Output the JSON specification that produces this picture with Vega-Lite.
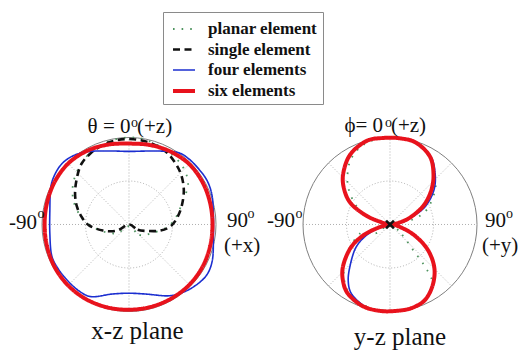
{
  "$schema": "https://vega.github.io/schema/vega-lite/v6.json",
  "width": 520,
  "height": 350,
  "autosize": {"type": "none"},
  "padding": 0,
  "background": "#ffffff",
  "config": {"view": {"stroke": null}},
  "datasets": {
    "circ": [{"x": 0, "y": 0}, {"x": 3, "y": 0}],
    "spk": [
      {"x": -1, "y": 0, "x2": 1, "y2": 0},
      {"x": 0, "y": -1, "x2": 0, "y2": 1},
      {"x": -0.7071, "y": -0.7071, "x2": 0.7071, "y2": 0.7071},
      {"x": -0.7071, "y": 0.7071, "x2": 0.7071, "y2": -0.7071},
      {"x": 2, "y": 0, "x2": 4, "y2": 0},
      {"x": 3, "y": -1, "x2": 3, "y2": 1},
      {"x": 2.2929, "y": -0.7071, "x2": 3.7071, "y2": 0.7071},
      {"x": 2.2929, "y": 0.7071, "x2": 3.7071, "y2": -0.7071}
    ],
    "xm": [
      {"x": 2.955, "y": 0.045, "x2": 3.045, "y2": -0.045},
      {"x": 2.955, "y": -0.045, "x2": 3.045, "y2": 0.045}
    ],
    "crv": [
      {"s": "planar element", "p": "Lpl", "x": 0, "y": -0.02},
      {"s": "planar element", "p": "Lpl", "x": 0.12, "y": -0.12},
      {"s": "planar element", "p": "Lpl", "x": 0.26, "y": -0.1},
      {"s": "planar element", "p": "Lpl", "x": 0.44, "y": -0.03},
      {"s": "planar element", "p": "Lpl", "x": 0.55, "y": 0.1},
      {"s": "planar element", "p": "Lpl", "x": 0.62, "y": 0.28},
      {"s": "planar element", "p": "Lpl", "x": 0.68, "y": 0.46},
      {"s": "planar element", "p": "Lpl", "x": 0.62, "y": 0.66},
      {"s": "planar element", "p": "Lpl", "x": 0.45, "y": 0.84},
      {"s": "planar element", "p": "Lpl", "x": 0.2, "y": 0.97},
      {"s": "planar element", "p": "Lpl", "x": 0, "y": 1.0},
      {"s": "planar element", "p": "Lpl", "x": -0.22, "y": 0.96},
      {"s": "planar element", "p": "Lpl", "x": -0.42, "y": 0.85},
      {"s": "planar element", "p": "Lpl", "x": -0.56, "y": 0.68},
      {"s": "planar element", "p": "Lpl", "x": -0.64, "y": 0.48},
      {"s": "planar element", "p": "Lpl", "x": -0.64, "y": 0.28},
      {"s": "planar element", "p": "Lpl", "x": -0.56, "y": 0.1},
      {"s": "planar element", "p": "Lpl", "x": -0.46, "y": 0.0},
      {"s": "planar element", "p": "Lpl", "x": -0.3, "y": -0.08},
      {"s": "planar element", "p": "Lpl", "x": -0.14, "y": -0.1},

      {"s": "planar element", "p": "Rplu", "x": 3.0, "y": 0},
      {"s": "planar element", "p": "Rplu", "x": 3.15, "y": 0.03},
      {"s": "planar element", "p": "Rplu", "x": 3.29, "y": 0.07},
      {"s": "planar element", "p": "Rplu", "x": 3.43, "y": 0.18},
      {"s": "planar element", "p": "Rplu", "x": 3.52, "y": 0.4},
      {"s": "planar element", "p": "Rplu", "x": 3.51, "y": 0.58},
      {"s": "planar element", "p": "Rplu", "x": 3.45, "y": 0.78},
      {"s": "planar element", "p": "Rplu", "x": 3.3, "y": 0.93},
      {"s": "planar element", "p": "Rplu", "x": 3.1, "y": 0.99},
      {"s": "planar element", "p": "Rplu", "x": 2.9, "y": 0.99},
      {"s": "planar element", "p": "Rplu", "x": 2.7, "y": 0.92},
      {"s": "planar element", "p": "Rplu", "x": 2.55, "y": 0.75},
      {"s": "planar element", "p": "Rplu", "x": 2.51, "y": 0.53},
      {"s": "planar element", "p": "Rplu", "x": 2.54, "y": 0.36},
      {"s": "planar element", "p": "Rplu", "x": 2.64, "y": 0.18},
      {"s": "planar element", "p": "Rplu", "x": 2.82, "y": 0.06},

      {"s": "planar element", "p": "Rpll", "x": 3.0, "y": 0},
      {"s": "planar element", "p": "Rpll", "x": 3.14, "y": -0.12},
      {"s": "planar element", "p": "Rpll", "x": 3.27, "y": -0.3},
      {"s": "planar element", "p": "Rpll", "x": 3.4, "y": -0.48},
      {"s": "planar element", "p": "Rpll", "x": 3.49, "y": -0.68},
      {"s": "planar element", "p": "Rpll", "x": 3.4, "y": -0.87},
      {"s": "planar element", "p": "Rpll", "x": 3.2, "y": -0.97},
      {"s": "planar element", "p": "Rpll", "x": 3.0, "y": -0.99},
      {"s": "planar element", "p": "Rpll", "x": 2.75, "y": -0.95},
      {"s": "planar element", "p": "Rpll", "x": 2.54, "y": -0.8},
      {"s": "planar element", "p": "Rpll", "x": 2.47, "y": -0.6},
      {"s": "planar element", "p": "Rpll", "x": 2.5, "y": -0.35},
      {"s": "planar element", "p": "Rpll", "x": 2.66, "y": -0.1},
      {"s": "planar element", "p": "Rpll", "x": 2.84, "y": -0.1},

      {"s": "single element", "p": "Lsi", "x": 0, "y": 0},
      {"s": "single element", "p": "Lsi", "x": 0.1, "y": -0.06},
      {"s": "single element", "p": "Lsi", "x": 0.22, "y": -0.075},
      {"s": "single element", "p": "Lsi", "x": 0.36, "y": -0.07},
      {"s": "single element", "p": "Lsi", "x": 0.48, "y": -0.02},
      {"s": "single element", "p": "Lsi", "x": 0.56, "y": 0.09},
      {"s": "single element", "p": "Lsi", "x": 0.61, "y": 0.23},
      {"s": "single element", "p": "Lsi", "x": 0.63, "y": 0.4},
      {"s": "single element", "p": "Lsi", "x": 0.6, "y": 0.57},
      {"s": "single element", "p": "Lsi", "x": 0.53, "y": 0.71},
      {"s": "single element", "p": "Lsi", "x": 0.42, "y": 0.84},
      {"s": "single element", "p": "Lsi", "x": 0.24, "y": 0.94},
      {"s": "single element", "p": "Lsi", "x": 0.05, "y": 0.98},
      {"s": "single element", "p": "Lsi", "x": -0.14, "y": 0.97},
      {"s": "single element", "p": "Lsi", "x": -0.31, "y": 0.91},
      {"s": "single element", "p": "Lsi", "x": -0.45, "y": 0.81},
      {"s": "single element", "p": "Lsi", "x": -0.55, "y": 0.69},
      {"s": "single element", "p": "Lsi", "x": -0.6, "y": 0.53},
      {"s": "single element", "p": "Lsi", "x": -0.62, "y": 0.36},
      {"s": "single element", "p": "Lsi", "x": -0.6, "y": 0.21},
      {"s": "single element", "p": "Lsi", "x": -0.54, "y": 0.08},
      {"s": "single element", "p": "Lsi", "x": -0.46, "y": -0.01},
      {"s": "single element", "p": "Lsi", "x": -0.3, "y": -0.07},
      {"s": "single element", "p": "Lsi", "x": -0.14, "y": -0.07},

      {"s": "four elements", "p": "Lfo", "x": 0, "y": 0.84},
      {"s": "four elements", "p": "Lfo", "x": 0.3, "y": 0.845},
      {"s": "four elements", "p": "Lfo", "x": 0.55, "y": 0.83},
      {"s": "four elements", "p": "Lfo", "x": 0.68, "y": 0.76},
      {"s": "four elements", "p": "Lfo", "x": 0.8, "y": 0.64},
      {"s": "four elements", "p": "Lfo", "x": 0.9, "y": 0.5},
      {"s": "four elements", "p": "Lfo", "x": 0.955, "y": 0.33},
      {"s": "four elements", "p": "Lfo", "x": 0.97, "y": 0.1},
      {"s": "four elements", "p": "Lfo", "x": 0.97, "y": -0.15},
      {"s": "four elements", "p": "Lfo", "x": 0.96, "y": -0.4},
      {"s": "four elements", "p": "Lfo", "x": 0.9, "y": -0.57},
      {"s": "four elements", "p": "Lfo", "x": 0.78, "y": -0.69},
      {"s": "four elements", "p": "Lfo", "x": 0.62, "y": -0.78},
      {"s": "four elements", "p": "Lfo", "x": 0.45, "y": -0.82},
      {"s": "four elements", "p": "Lfo", "x": 0.2, "y": -0.8},
      {"s": "four elements", "p": "Lfo", "x": 0, "y": -0.79},
      {"s": "four elements", "p": "Lfo", "x": -0.2, "y": -0.8},
      {"s": "four elements", "p": "Lfo", "x": -0.43, "y": -0.83},
      {"s": "four elements", "p": "Lfo", "x": -0.58, "y": -0.76},
      {"s": "four elements", "p": "Lfo", "x": -0.71, "y": -0.64},
      {"s": "four elements", "p": "Lfo", "x": -0.82, "y": -0.5},
      {"s": "four elements", "p": "Lfo", "x": -0.89, "y": -0.35},
      {"s": "four elements", "p": "Lfo", "x": -0.91, "y": -0.1},
      {"s": "four elements", "p": "Lfo", "x": -0.91, "y": 0.15},
      {"s": "four elements", "p": "Lfo", "x": -0.9, "y": 0.42},
      {"s": "four elements", "p": "Lfo", "x": -0.85, "y": 0.58},
      {"s": "four elements", "p": "Lfo", "x": -0.76, "y": 0.71},
      {"s": "four elements", "p": "Lfo", "x": -0.62, "y": 0.8},
      {"s": "four elements", "p": "Lfo", "x": -0.45, "y": 0.84},
      {"s": "four elements", "p": "Lfo", "x": -0.2, "y": 0.845},

      {"s": "four elements", "p": "Rfou", "x": 3.0, "y": 0},
      {"s": "four elements", "p": "Rfou", "x": 3.1, "y": 0.02},
      {"s": "four elements", "p": "Rfou", "x": 3.24, "y": 0.08},
      {"s": "four elements", "p": "Rfou", "x": 3.4, "y": 0.2},
      {"s": "four elements", "p": "Rfou", "x": 3.5, "y": 0.38},
      {"s": "four elements", "p": "Rfou", "x": 3.52, "y": 0.57},
      {"s": "four elements", "p": "Rfou", "x": 3.47, "y": 0.78},
      {"s": "four elements", "p": "Rfou", "x": 3.3, "y": 0.94},
      {"s": "four elements", "p": "Rfou", "x": 3.12, "y": 0.99},
      {"s": "four elements", "p": "Rfou", "x": 2.93, "y": 0.995},
      {"s": "four elements", "p": "Rfou", "x": 2.73, "y": 0.96},
      {"s": "four elements", "p": "Rfou", "x": 2.54, "y": 0.8},
      {"s": "four elements", "p": "Rfou", "x": 2.46, "y": 0.57},
      {"s": "four elements", "p": "Rfou", "x": 2.48, "y": 0.38},
      {"s": "four elements", "p": "Rfou", "x": 2.56, "y": 0.23},
      {"s": "four elements", "p": "Rfou", "x": 2.73, "y": 0.1},
      {"s": "four elements", "p": "Rfou", "x": 2.89, "y": 0.03},

      {"s": "four elements", "p": "Rfol", "x": 3.0, "y": 0},
      {"s": "four elements", "p": "Rfol", "x": 2.83, "y": -0.06},
      {"s": "four elements", "p": "Rfol", "x": 2.7, "y": -0.15},
      {"s": "four elements", "p": "Rfol", "x": 2.6, "y": -0.28},
      {"s": "four elements", "p": "Rfol", "x": 2.54, "y": -0.48},
      {"s": "four elements", "p": "Rfol", "x": 2.52, "y": -0.65},
      {"s": "four elements", "p": "Rfol", "x": 2.56, "y": -0.8},
      {"s": "four elements", "p": "Rfol", "x": 2.71, "y": -0.94},
      {"s": "four elements", "p": "Rfol", "x": 2.9, "y": -0.995},
      {"s": "four elements", "p": "Rfol", "x": 3.1, "y": -0.99},
      {"s": "four elements", "p": "Rfol", "x": 3.25, "y": -0.96},
      {"s": "four elements", "p": "Rfol", "x": 3.4, "y": -0.87},
      {"s": "four elements", "p": "Rfol", "x": 3.49, "y": -0.7},
      {"s": "four elements", "p": "Rfol", "x": 3.51, "y": -0.5},
      {"s": "four elements", "p": "Rfol", "x": 3.44, "y": -0.3},
      {"s": "four elements", "p": "Rfol", "x": 3.3, "y": -0.14},
      {"s": "four elements", "p": "Rfol", "x": 3.14, "y": -0.04},

      {"s": "six elements", "p": "Lsx", "x": 0, "y": 0.93},
      {"s": "six elements", "p": "Lsx", "x": 0.2446, "y": 0.9128},
      {"s": "six elements", "p": "Lsx", "x": 0.4825, "y": 0.8357},
      {"s": "six elements", "p": "Lsx", "x": 0.693, "y": 0.693},
      {"s": "six elements", "p": "Lsx", "x": 0.8444, "y": 0.4875},
      {"s": "six elements", "p": "Lsx", "x": 0.9321, "y": 0.2498},
      {"s": "six elements", "p": "Lsx", "x": 0.96, "y": 0},
      {"s": "six elements", "p": "Lsx", "x": 0.9321, "y": -0.2498},
      {"s": "six elements", "p": "Lsx", "x": 0.8444, "y": -0.4875},
      {"s": "six elements", "p": "Lsx", "x": 0.693, "y": -0.693},
      {"s": "six elements", "p": "Lsx", "x": 0.49, "y": -0.8487},
      {"s": "six elements", "p": "Lsx", "x": 0.2536, "y": -0.9466},
      {"s": "six elements", "p": "Lsx", "x": 0, "y": -0.98},
      {"s": "six elements", "p": "Lsx", "x": -0.2549, "y": -0.9514},
      {"s": "six elements", "p": "Lsx", "x": -0.495, "y": -0.8574},
      {"s": "six elements", "p": "Lsx", "x": -0.7, "y": -0.7},
      {"s": "six elements", "p": "Lsx", "x": -0.853, "y": -0.4925},
      {"s": "six elements", "p": "Lsx", "x": -0.9418, "y": -0.2523},
      {"s": "six elements", "p": "Lsx", "x": -0.97, "y": 0},
      {"s": "six elements", "p": "Lsx", "x": -0.9418, "y": 0.2523},
      {"s": "six elements", "p": "Lsx", "x": -0.853, "y": 0.4925},
      {"s": "six elements", "p": "Lsx", "x": -0.7, "y": 0.7},
      {"s": "six elements", "p": "Lsx", "x": -0.4875, "y": 0.8444},
      {"s": "six elements", "p": "Lsx", "x": -0.2459, "y": 0.9176},

      {"s": "six elements", "p": "Rsxu", "x": 3.0, "y": 0},
      {"s": "six elements", "p": "Rsxu", "x": 3.1, "y": 0.02},
      {"s": "six elements", "p": "Rsxu", "x": 3.23, "y": 0.08},
      {"s": "six elements", "p": "Rsxu", "x": 3.38, "y": 0.21},
      {"s": "six elements", "p": "Rsxu", "x": 3.47, "y": 0.38},
      {"s": "six elements", "p": "Rsxu", "x": 3.5, "y": 0.57},
      {"s": "six elements", "p": "Rsxu", "x": 3.46, "y": 0.78},
      {"s": "six elements", "p": "Rsxu", "x": 3.3, "y": 0.94},
      {"s": "six elements", "p": "Rsxu", "x": 3.12, "y": 0.99},
      {"s": "six elements", "p": "Rsxu", "x": 2.93, "y": 0.995},
      {"s": "six elements", "p": "Rsxu", "x": 2.73, "y": 0.96},
      {"s": "six elements", "p": "Rsxu", "x": 2.54, "y": 0.8},
      {"s": "six elements", "p": "Rsxu", "x": 2.46, "y": 0.57},
      {"s": "six elements", "p": "Rsxu", "x": 2.48, "y": 0.38},
      {"s": "six elements", "p": "Rsxu", "x": 2.56, "y": 0.23},
      {"s": "six elements", "p": "Rsxu", "x": 2.73, "y": 0.1},
      {"s": "six elements", "p": "Rsxu", "x": 2.89, "y": 0.03},

      {"s": "six elements", "p": "Rsxl", "x": 3.0, "y": 0},
      {"s": "six elements", "p": "Rsxl", "x": 2.81, "y": -0.06},
      {"s": "six elements", "p": "Rsxl", "x": 2.66, "y": -0.15},
      {"s": "six elements", "p": "Rsxl", "x": 2.54, "y": -0.28},
      {"s": "six elements", "p": "Rsxl", "x": 2.46, "y": -0.48},
      {"s": "six elements", "p": "Rsxl", "x": 2.46, "y": -0.65},
      {"s": "six elements", "p": "Rsxl", "x": 2.52, "y": -0.8},
      {"s": "six elements", "p": "Rsxl", "x": 2.69, "y": -0.94},
      {"s": "six elements", "p": "Rsxl", "x": 2.9, "y": -0.995},
      {"s": "six elements", "p": "Rsxl", "x": 3.1, "y": -0.99},
      {"s": "six elements", "p": "Rsxl", "x": 3.25, "y": -0.96},
      {"s": "six elements", "p": "Rsxl", "x": 3.4, "y": -0.87},
      {"s": "six elements", "p": "Rsxl", "x": 3.49, "y": -0.7},
      {"s": "six elements", "p": "Rsxl", "x": 3.51, "y": -0.5},
      {"s": "six elements", "p": "Rsxl", "x": 3.44, "y": -0.3},
      {"s": "six elements", "p": "Rsxl", "x": 3.3, "y": -0.14},
      {"s": "six elements", "p": "Rsxl", "x": 3.14, "y": -0.04}
    ],
    "txtL": [
      {"x": 0.092, "y": 1.052, "t": "(+z)"},
      {"x": 3.011, "y": 1.063, "t": "(+z)"},
      {"x": 1.126, "y": -0.029, "t": "90"},
      {"x": 1.092, "y": -0.316, "t": "(+x)"},
      {"x": 4.092, "y": -0.029, "t": "90"},
      {"x": 4.057, "y": -0.316, "t": "(+y)"}
    ],
    "txtR": [
      {"x": 0.017, "y": 1.052, "t": "θ = 0"},
      {"x": 2.92, "y": 1.063, "t": "ϕ= 0"},
      {"x": -1.057, "y": -0.052, "t": "-90"},
      {"x": 1.908, "y": -0.029, "t": "-90"}
    ],
    "sup": [
      {"x": 0.023, "y": 1.115, "t": "o"},
      {"x": 2.943, "y": 1.126, "t": "o"},
      {"x": -1.052, "y": 0.069, "t": "o"},
      {"x": 1.362, "y": 0.069, "t": "o"},
      {"x": 1.914, "y": 0.069, "t": "o"},
      {"x": 4.333, "y": 0.069, "t": "o"}
    ],
    "pl": [
      {"x": 0.098, "y": -1.316, "t": "x-z plane"},
      {"x": 3.115, "y": -1.385, "t": "y-z plane"}
    ]
  },
  "layer": [
    {
      "data": {"name": "circ"},
      "mark": {"type": "point", "shape": "circle", "filled": false, "size": 30276, "stroke": "#808080", "strokeWidth": 1, "opacity": 1},
      "encoding": {
        "x": {"field": "x", "type": "quantitative", "scale": {"domain": [-1.48276, 4.49425], "nice": false, "zero": false}, "axis": null},
        "y": {"field": "y", "type": "quantitative", "scale": {"domain": [-1.44253, 2.58046], "nice": false, "zero": false}, "axis": null}
      }
    },
    {
      "data": {"name": "circ"},
      "mark": {"type": "point", "shape": "circle", "filled": false, "size": 7569, "stroke": "#9a9a9a", "strokeWidth": 0.8, "strokeDash": [1, 2], "opacity": 1},
      "encoding": {
        "x": {"field": "x", "type": "quantitative", "scale": {"domain": [-1.48276, 4.49425], "nice": false, "zero": false}, "axis": null},
        "y": {"field": "y", "type": "quantitative", "scale": {"domain": [-1.44253, 2.58046], "nice": false, "zero": false}, "axis": null}
      }
    },
    {
      "data": {"name": "spk"},
      "mark": {"type": "rule", "stroke": "#9a9a9a", "strokeWidth": 0.8, "strokeDash": [1, 2]},
      "encoding": {
        "x": {"field": "x", "type": "quantitative", "scale": {"domain": [-1.48276, 4.49425], "nice": false, "zero": false}, "axis": null},
        "y": {"field": "y", "type": "quantitative", "scale": {"domain": [-1.44253, 2.58046], "nice": false, "zero": false}, "axis": null},
        "x2": {"field": "x2"},
        "y2": {"field": "y2"}
      }
    },
    {
      "data": {"name": "crv"},
      "mark": {"type": "line", "interpolate": "cardinal-closed", "strokeJoin": "round"},
      "encoding": {
        "x": {"field": "x", "type": "quantitative", "scale": {"domain": [-1.48276, 4.49425], "nice": false, "zero": false}, "axis": null},
        "y": {"field": "y", "type": "quantitative", "scale": {"domain": [-1.44253, 2.58046], "nice": false, "zero": false}, "axis": null},
        "order": {"value": null},
        "detail": {"field": "p", "type": "nominal"},
        "color": {
          "field": "s", "type": "nominal",
          "scale": {"domain": ["planar element", "single element", "four elements", "six elements"], "range": ["#4f9460", "#111111", "#1c2fd0", "#e8121c"]},
          "legend": {"title": null, "orient": "none", "legendX": 163, "legendY": 12, "strokeColor": "#8a8a8a", "fillColor": "#ffffff", "padding": 5, "labelFont": "Liberation Serif", "labelFontSize": 17, "labelFontWeight": "bold", "labelColor": "#111111", "symbolSize": 484, "symbolType": "stroke", "symbolOffset": 3, "rowPadding": 0, "labelOffset": 11}
        },
        "strokeDash": {
          "field": "s", "type": "nominal",
          "scale": {"domain": ["planar element", "single element", "four elements", "six elements"], "range": [[1.6, 7], [7, 4.5], [1, 0], [1, 0]]},
          "legend": {"title": null, "orient": "none", "legendX": 163, "legendY": 12}
        },
        "strokeWidth": {
          "field": "s", "type": "nominal",
          "scale": {"type": "ordinal", "domain": ["planar element", "single element", "four elements", "six elements"], "range": [1.8, 2.6, 1.6, 4]},
          "legend": {"title": null, "orient": "none", "legendX": 163, "legendY": 12}
        }
      }
    },
    {
      "data": {"name": "xm"},
      "mark": {"type": "rule", "stroke": "#111111", "strokeWidth": 2.6},
      "encoding": {
        "x": {"field": "x", "type": "quantitative", "scale": {"domain": [-1.48276, 4.49425], "nice": false, "zero": false}, "axis": null},
        "y": {"field": "y", "type": "quantitative", "scale": {"domain": [-1.44253, 2.58046], "nice": false, "zero": false}, "axis": null},
        "x2": {"field": "x2"},
        "y2": {"field": "y2"}
      }
    },
    {
      "data": {"name": "txtL"},
      "mark": {"type": "text", "align": "left", "baseline": "alphabetic", "font": "Liberation Serif", "fontSize": 21, "color": "#111111"},
      "encoding": {
        "x": {"field": "x", "type": "quantitative", "scale": {"domain": [-1.48276, 4.49425], "nice": false, "zero": false}, "axis": null},
        "y": {"field": "y", "type": "quantitative", "scale": {"domain": [-1.44253, 2.58046], "nice": false, "zero": false}, "axis": null},
        "text": {"field": "t"}
      }
    },
    {
      "data": {"name": "txtR"},
      "mark": {"type": "text", "align": "right", "baseline": "alphabetic", "font": "Liberation Serif", "fontSize": 21, "color": "#111111"},
      "encoding": {
        "x": {"field": "x", "type": "quantitative", "scale": {"domain": [-1.48276, 4.49425], "nice": false, "zero": false}, "axis": null},
        "y": {"field": "y", "type": "quantitative", "scale": {"domain": [-1.44253, 2.58046], "nice": false, "zero": false}, "axis": null},
        "text": {"field": "t"}
      }
    },
    {
      "data": {"name": "sup"},
      "mark": {"type": "text", "align": "left", "baseline": "alphabetic", "font": "Liberation Serif", "fontSize": 14, "color": "#111111"},
      "encoding": {
        "x": {"field": "x", "type": "quantitative", "scale": {"domain": [-1.48276, 4.49425], "nice": false, "zero": false}, "axis": null},
        "y": {"field": "y", "type": "quantitative", "scale": {"domain": [-1.44253, 2.58046], "nice": false, "zero": false}, "axis": null},
        "text": {"field": "t"}
      }
    },
    {
      "data": {"name": "pl"},
      "mark": {"type": "text", "align": "center", "baseline": "alphabetic", "font": "Liberation Serif", "fontSize": 25, "color": "#111111"},
      "encoding": {
        "x": {"field": "x", "type": "quantitative", "scale": {"domain": [-1.48276, 4.49425], "nice": false, "zero": false}, "axis": null},
        "y": {"field": "y", "type": "quantitative", "scale": {"domain": [-1.44253, 2.58046], "nice": false, "zero": false}, "axis": null},
        "text": {"field": "t"}
      }
    }
  ]
}
